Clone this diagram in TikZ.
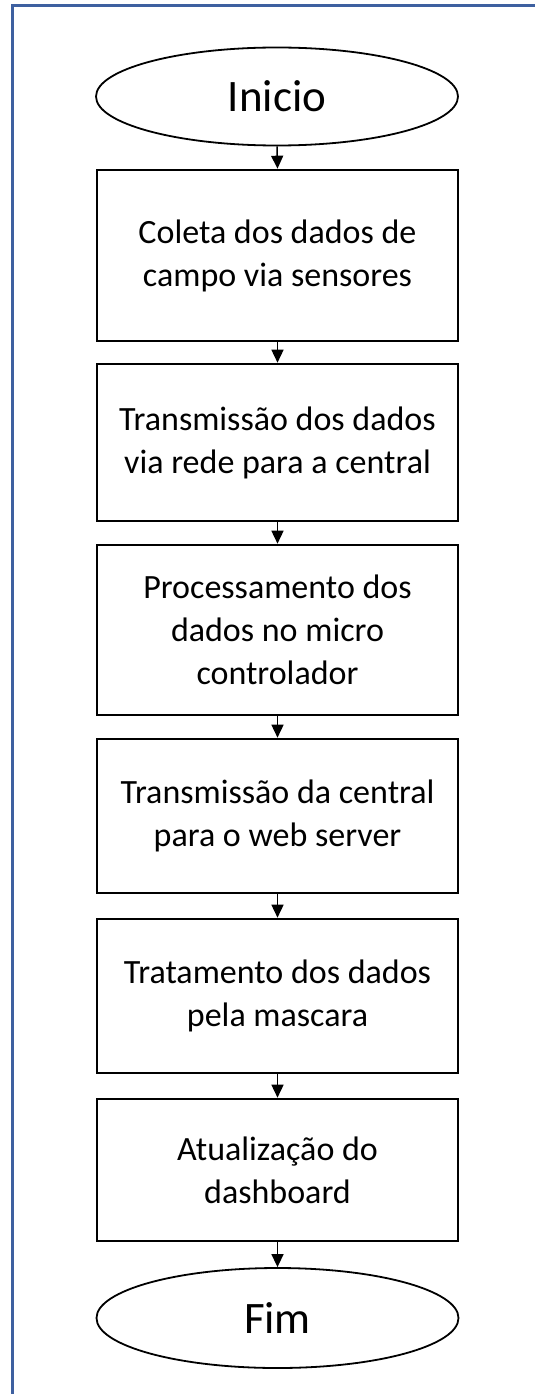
\documentclass[tikz,border=0pt]{standalone}
\usepackage{fontspec}
\setmainfont{Carlito}
\usetikzlibrary{shapes.geometric,arrows.meta}
\definecolor{frameblue}{RGB}{62,96,160}
\tikzset{
  procbox/.style={draw=black, line width=2.6pt, rectangle, minimum width=361pt, inner sep=0pt, align=center, font=\fontsize{34}{43}\selectfont},
  termbox/.style={draw=black, line width=1.8pt, ellipse, minimum width=362pt, inner sep=0pt, font=\fontsize{45}{54}\selectfont},
  flow/.style={line width=1.5pt, -{Triangle[length=13pt,width=12pt]}}
}
\begin{document}
\begin{tikzpicture}[x=1pt,y=-1pt]
\useasboundingbox (0,0) rectangle (535,1394);
\draw[frameblue, line width=2.4pt] (12.5,1394) -- (12.5,5.5) -- (535,5.5);
\node[termbox, minimum height=98pt] (start) at (277,96.5) {Inicio};
\node[procbox, minimum height=171pt] (b1) at (277.5,255.5) {Coleta dos dados de\\campo via sensores};
\node[procbox, minimum height=157pt] (b2) at (277.5,442.5) {Transmissão dos dados\\via rede para a central};
\node[procbox, minimum height=170pt] (b3) at (277.5,630) {Processamento dos\\dados no micro\\controlador};
\node[procbox, minimum height=154pt] (b4) at (277.5,816) {Transmissão da central\\para o web server};
\node[procbox, minimum height=154pt] (b5) at (277.5,996) {Tratamento dos dados\\pela mascara};
\node[procbox, minimum height=142pt] (b6) at (277.5,1170) {Atualização do\\dashboard};
\node[termbox, minimum height=100pt] (end) at (277.5,1318) {Fim};
\draw[flow] (start.south) -- (b1.north);
\draw[flow] (b1.south) -- (b2.north);
\draw[flow] (b2.south) -- (b3.north);
\draw[flow] (b3.south) -- (b4.north);
\draw[flow] (b4.south) -- (b5.north);
\draw[flow] (b5.south) -- (b6.north);
\draw[flow] (b6.south) -- (end.north);
\end{tikzpicture}
\end{document}
